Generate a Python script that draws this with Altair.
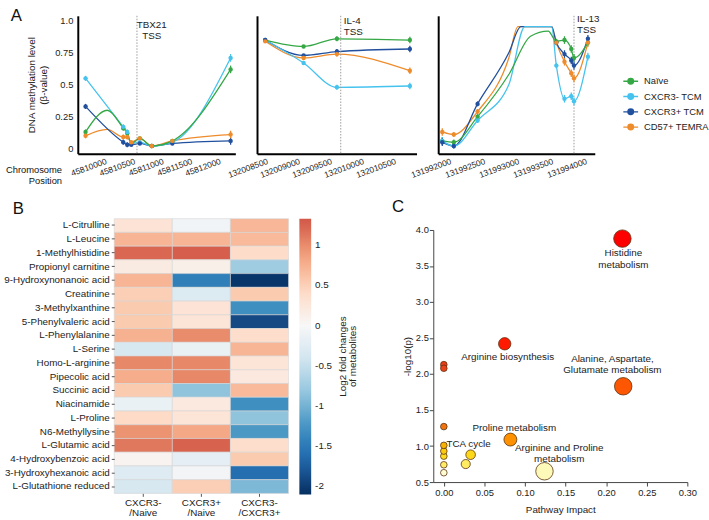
import altair as alt
import pandas as pd

FONT = "Liberation Sans"

# ---------------- A: CpG methylation around three transcription start sites
SERIES = ["Naïve", "CXCR3- TCM", "CXCR3+ TCM", "CD57+ TEMRA"]
SERIES_COLORS = ["#35a845", "#45c3ee", "#21509e", "#ee8c2c"]

# TBX21 locus
tbx21_pos = [45809670, 45810330, 45810400, 45810470, 45810620, 45810830, 45811190, 45812210]
tbx21_naive = [0.13, 0.16, 0.12, 0.04, 0.08, 0.02, 0.06, 0.62]
tbx21_cxcr3neg = [0.55, 0.17, 0.13, 0.04, 0.05, 0.02, 0.05, 0.71]
tbx21_cxcr3pos = [0.33, 0.05, 0.03, 0.03, 0.04, 0.02, 0.04, 0.06]
tbx21_temra = [0.10, 0.09, 0.09, 0.05, 0.08, 0.02, 0.06, 0.11]
tbx21_err = [0.02, 0.02, 0.02, 0.01, 0.01, 0.01, 0.01, 0.03]
tbx21_bends = {"Naïve": ([45810050], [0.30]), "CD57+ TEMRA": ([45810050], [0.15])}
tbx21_ticks = [45810000, 45810500, 45811000, 45811500, 45812000]
tbx21_tss = 45810570

# IL-4 locus
il4_pos = [132008490, 132009090, 132009610, 132010750]
il4_naive = [0.85, 0.80, 0.86, 0.85]
il4_cxcr3neg = [0.85, 0.67, 0.48, 0.49]
il4_cxcr3pos = [0.85, 0.73, 0.76, 0.78]
il4_temra = [0.84, 0.71, 0.74, 0.61]
il4_err = [0.01, 0.01, 0.02, 0.025]
il4_ticks = [132008500, 132009000, 132009500, 132010000, 132010500]
il4_tss = 132009670

# IL-13 locus
il13_pos = [131991900, 131992070, 131992420, 131993580, 131993700, 131993800, 131993840, 131994045]
il13_naive = [0.06, 0.05, 0.25, 0.84, 0.85, 0.78, 0.71, 0.83]
il13_cxcr3neg = [0.06, 0.02, 0.22, 0.65, 0.39, 0.41, 0.37, 0.72]
il13_cxcr3pos = [0.05, 0.02, 0.35, 0.83, 0.74, 0.69, 0.65, 0.86]
il13_temra = [0.13, 0.11, 0.29, 0.83, 0.68, 0.59, 0.55, 0.83]
il13_err = [0.03, 0.02, 0.02, 0.02, 0.03, 0.03, 0.03, 0.03]
il13_bends = {
    "Naïve": ([131992880, 131993200, 131993460], [0.58, 0.88, 0.92]),
    "CXCR3- TCM": ([131992880, 131993116, 131993510], [0.50, 0.955, 0.955]),
    "CXCR3+ TCM": ([131992880, 131993058, 131993510], [0.75, 0.955, 0.955]),
    "CD57+ TEMRA": ([131992880, 131993014, 131993510], [0.71, 0.955, 0.955]),
}
il13_ticks = [131992000, 131992500, 131993000, 131993500, 131994000]
il13_tss = 131993840

# ---------------- B: metabolite fold changes
METABOLITES = [
    "L-Citrulline", "L-Leucine", "1-Methylhistidine", "Propionyl carnitine",
    "9-Hydroxynonanoic acid", "Creatinine", "3-Methylxanthine", "5-Phenylvaleric acid",
    "L-Phenylalanine", "L-Serine", "Homo-L-arginine", "Pipecolic acid", "Succinic acid",
    "Niacinamide", "L-Proline", "N6-Methyllysine", "L-Glutamic acid",
    "4-Hydroxybenzoic acid", "3-Hydroxyhexanoic acid", "L-Glutathione reduced",
]
COMPARISONS = ["CXCR3-/Naive", "CXCR3+/Naive", "CXCR3-/CXCR3+"]
fc_cxcr3neg_naive = [0.30, 0.72, 1.22, 0.18, 0.72, 0.52, 0.55, 0.55, 0.75, -0.35,
                     1.02, 0.78, 0.55, -0.15, 0.42, 0.95, 1.12, 0.06, -0.28, -0.35]
fc_cxcr3pos_naive = [-0.08, 0.72, 1.27, 0.12, -1.45, -0.30, 0.30, 0.28, 1.00, -0.15,
                     1.02, 1.02, -0.85, 0.22, 0.28, 0.82, 1.25, -0.20, -0.06, 0.52]
fc_cxcr3neg_cxcr3pos = [0.70, 0.68, 0.40, -0.75, -2.05, 0.55, -1.30, -1.90, 0.38, 0.72,
                        0.28, 0.22, 0.68, -1.30, -0.85, -1.22, 0.38, 0.55, -1.60, -0.95]

# ---------------- C: pathway enrichment
PATHWAYS = ["Histidine metabolism", "Arginine biosynthesis",
            "Alanine, Aspartate, Glutamate metabolism", "Proline metabolism",
            "TCA cycle", "", "Arginine and Proline metabolism",
            "", "", "", "", "", "", "", ""]
IMPACT = [0.220, 0.075, 0.221, 0.082, 0.033, 0.027, 0.124,
          0.0, 0.0, 0.0, 0.0, 0.0, 0.0, 0.0, 0.0]
NEG_LOG_P = [3.88, 2.42, 1.83, 1.09, 0.88, 0.75, 0.65,
             2.13, 2.08, 1.27, 1.01, 0.93, 0.86, 0.74, 0.63]
WRAPPED = {
    "Histidine metabolism": "Histidine\nmetabolism",
    "Alanine, Aspartate, Glutamate metabolism": "Alanine, Aspartate,\nGlutamate metabolism",
    "Arginine and Proline metabolism": "Arginine and Proline\nmetabolism",
}
# label placement around each bubble: dx, dy (to the first line), baseline
LABEL_PLACEMENT = {
    "Histidine metabolism": (1, 10, "top"),
    "Arginine biosynthesis": (3, 13, "middle"),
    "Alanine, Aspartate, Glutamate metabolism": (-11, -23, "bottom"),
    "Proline metabolism": (4, -12, "middle"),
    "TCA cycle": (-2, -11, "middle"),
    "Arginine and Proline metabolism": (15, -19, "bottom"),
}

one_row = pd.DataFrame({"k": [0]})
series_scale = alt.Scale(domain=SERIES, range=SERIES_COLORS)


def spacer(w):
    return alt.Chart(one_row).mark_point(opacity=0).encode(
        x=alt.value(0), y=alt.value(0)).properties(width=w, height=1)


def locus_tables(positions, values, err, bends):
    pts, curve = [], []
    for s, vals in zip(SERIES, values):
        for p, v, e in zip(positions, vals, err):
            pts.append({"pos": p, "value": v, "lo": v - e, "hi": v + e, "series": s})
            curve.append({"pos": p, "value": v, "series": s})
        bp, bv = bends.get(s, ([], []))
        for p, v in zip(bp, bv):
            curve.append({"pos": p, "value": v, "series": s})
    return pd.DataFrame(pts), pd.DataFrame(curve).sort_values(["series", "pos"])


LEGEND_SYMBOL = "M-1,0H1M-0.38,0A0.38,0.38,0,1,1,0.38,0A0.38,0.38,0,1,1,-0.38,0"


def locus_panel(positions, values, err, bends, domain, ticks, tss, tss_text,
                tss_align, tss_dx, tss_y, width, first=False, legend=False):
    pts, curve = locus_tables(positions, values, err, bends)
    xscale = alt.Scale(domain=domain, nice=False, zero=False)
    yscale = alt.Scale(domain=[-0.04, 1.04], nice=False, zero=False)
    xaxis = alt.Axis(values=ticks, format="d", labelAngle=-20, labelAlign="right",
                     labelBaseline="top", labelFontSize=8.5, labelPadding=3,
                     labelFlush=False, labelOverlap=False, ticks=False, grid=False,
                     domainColor="black", domainWidth=2, title=None)
    if first:
        yaxis = alt.Axis(values=[0, 0.25, 0.5, 0.75, 1.0],
                         labelExpr="datum.value == 1 ? '1.0' : format(datum.value, '~g')",
                         labelFontSize=9.5, ticks=False, grid=False, labelPadding=5,
                         labelOverlap=False, domainColor="black", domainWidth=2,
                         title=["DNA methylation level", "(β-value)"],
                         titleFontSize=10, titleFontWeight="normal", titlePadding=6,
                         titleLineHeight=12)
    else:
        yaxis = alt.Axis(labels=False, ticks=False, grid=False, title=None,
                         domainColor="black", domainWidth=2)
    leg = None
    if legend:
        leg = alt.Legend(title=None, orient="none", legendX=187, legendY=58,
                         symbolType=LEGEND_SYMBOL, symbolSize=225, symbolStrokeWidth=1.4,
                         labelFontSize=9.5, labelOffset=5, rowPadding=0.5, labelFont=FONT)
    color = alt.Color("series:N", scale=series_scale, legend=leg)
    # every layer carries the same axis definition so the merged axis keeps it
    x_enc = alt.X("pos:Q", scale=xscale, axis=xaxis)
    y_enc = alt.Y("value:Q", scale=yscale, axis=yaxis)
    x_tss = alt.X(datum=tss, scale=xscale, axis=xaxis)

    lines = alt.Chart(curve).mark_line(interpolate="monotone", strokeWidth=1.3, clip=True).encode(
        x=x_enc, y=y_enc, color=color, detail="series:N")
    bars = alt.Chart(pts).mark_rule(strokeWidth=1.3).encode(
        x=x_enc, y=alt.Y("lo:Q", scale=yscale, axis=yaxis), y2="hi:Q",
        color=alt.Color("series:N", scale=series_scale, legend=None))
    dots = alt.Chart(pts).mark_circle(size=20, opacity=1).encode(x=x_enc, y=y_enc, color=color)
    tss_rule = alt.Chart(one_row).mark_rule(color="#9a9a9a", strokeDash=[1.5, 1.5],
                                            strokeWidth=1).encode(
        x=x_tss, y=alt.value(0), y2=alt.value(140))
    tss_label = alt.Chart(one_row).mark_text(
        align=tss_align, baseline="top", dx=tss_dx, fontSize=10, lineBreak="\n",
        lineHeight=11.5, color="#222").encode(
        x=x_tss, y=alt.value(tss_y), text=alt.value(tss_text))
    layers = [lines, tss_rule, bars, dots, tss_label]
    if first:
        layers.append(alt.Chart(one_row).mark_text(
            align="right", baseline="middle", fontSize=9.5, lineBreak="\n", lineHeight=11,
            color="#111").encode(x=alt.value(-16), y=alt.value(157),
                                 text=alt.value("Chromosome\nPosition")))
        layers.append(alt.Chart(one_row).mark_text(
            align="left", baseline="alphabetic", fontSize=17, color="#111").encode(
            x=alt.value(-68), y=alt.value(5), text=alt.value("A")))
    return alt.layer(*layers).properties(width=width, height=140)


a1 = locus_panel(tbx21_pos, [tbx21_naive, tbx21_cxcr3neg, tbx21_cxcr3pos, tbx21_temra],
                 tbx21_err, tbx21_bends, [45809534, 45812293], tbx21_ticks, tbx21_tss,
                 "TBX21\nTSS", "center", 15, 4, 160, first=True)
a2 = locus_panel(il4_pos, [il4_naive, il4_cxcr3neg, il4_cxcr3pos, il4_temra],
                 il4_err, {}, [132008362, 132010854], il4_ticks, il4_tss,
                 "IL-4\nTSS", "left", 3, 0, 162)
a3 = locus_panel(il13_pos, [il13_naive, il13_cxcr3neg, il13_cxcr3pos, il13_temra],
                 il13_err, il13_bends, [131991840, 131994146], il13_ticks, il13_tss,
                 "IL-13\nTSS", "left", 3, -2, 159, legend=True)

top = alt.hconcat(a1, a2, a3, spacing=22, bounds="flush").resolve_scale(color="independent")

# ---------------- B heatmap
heat_rows = []
for comp, vals in zip(COMPARISONS, [fc_cxcr3neg_naive, fc_cxcr3pos_naive, fc_cxcr3neg_cxcr3pos]):
    for m, v in zip(METABOLITES, vals):
        heat_rows.append({"metabolite": m, "comparison": comp, "log2fc": v})
heat_df = pd.DataFrame(heat_rows)

rdbu_domain = [-2.1, -1.68, -1.26, -0.84, -0.42, 0, 0.42, 0.84, 1.26, 1.33]
rdbu_range = ["#053061", "#2166ac", "#4393c3", "#92c5de", "#d1e5f0", "#f7f7f7",
              "#fddbc7", "#f4a582", "#d6604d", "#d25849"]

heat = alt.Chart(heat_df).mark_rect(stroke="#d6d6d6", strokeWidth=0.6).encode(
    x=alt.X("comparison:N", sort=COMPARISONS, scale=alt.Scale(paddingInner=0, paddingOuter=0),
            axis=alt.Axis(title=None, labelAngle=0, labelFontSize=10, labelPadding=1,
                          tickSize=3, tickColor="#555", domain=False, labelLineHeight=10.5,
                          labelExpr="[slice(datum.label, 0, indexof(datum.label, '/')), slice(datum.label, indexof(datum.label, '/'))]")),
    y=alt.Y("metabolite:N", sort=METABOLITES, scale=alt.Scale(paddingInner=0, paddingOuter=0),
            axis=alt.Axis(title=None, labelFontSize=10, tickSize=3, tickColor="#555",
                          labelPadding=2, domain=False)),
    color=alt.Color("log2fc:Q", scale=alt.Scale(domain=rdbu_domain, range=rdbu_range),
                    legend=alt.Legend(title=None, orient="none", legendX=188, legendY=0,
                                      direction="vertical", gradientLength=280,
                                      gradientThickness=12, gradientStrokeWidth=0,
                                      values=[1, 0.5, 0, -0.5, -1, -1.5, -2],
                                      labelExpr="replace(format(datum.value, '.1~f'), '\u2212', '-')",
                                      labelOverlap=False, labelFontSize=10, labelOffset=4,
                                      labelFont=FONT)),
)
heat_title = alt.Chart(one_row).mark_text(
    angle=270, align="center", baseline="middle", fontSize=10, lineBreak="\n",
    lineHeight=11, color="#222").encode(
    x=alt.value(232), y=alt.value(140), text=alt.value("Log2 fold changes\nof metabolites"))
heat_letter = alt.Chart(one_row).mark_text(
    align="left", baseline="alphabetic", fontSize=17, color="#111").encode(
    x=alt.value(-103), y=alt.value(-5), text=alt.value("B"))
panel_b = alt.layer(heat, heat_title, heat_letter).properties(width=177, height=279)

# ---------------- C bubble plot
path_df = pd.DataFrame({"pathway": PATHWAYS, "impact": IMPACT, "neglogp": NEG_LOG_P})
path_df["label"] = [WRAPPED.get(p, p) for p in PATHWAYS]
path_df = path_df.sort_values("impact")

cx = alt.X("impact:Q", scale=alt.Scale(domain=[-0.013, 0.30], nice=False, zero=False),
           axis=alt.Axis(values=[0, 0.05, 0.1, 0.15, 0.2, 0.25, 0.3], format=".2f",
                         title="Pathway Impact", titleFontSize=10, titleFontWeight="normal",
                         titlePadding=7, labelFontSize=9.5, tickSize=4, grid=False,
                         domainColor="#444", tickColor="#444", labelFlush=False))
cy = alt.Y("neglogp:Q", scale=alt.Scale(domain=[0.5, 4.0], nice=False, zero=False),
           axis=alt.Axis(values=[0.5, 1, 1.5, 2, 2.5, 3, 3.5, 4], format=".1f",
                         title="-log10(p)", titleFontSize=10, titleFontWeight="normal",
                         titlePadding=3, labelFontSize=9.5, tickSize=4, labelPadding=1,
                         grid=False, domainColor="#444", tickColor="#444"))
bubbles = alt.Chart(path_df).mark_circle(opacity=1, stroke="#5a3312", strokeWidth=0.8).encode(
    x=cx, y=cy,
    size=alt.Size("impact:Q", scale=alt.Scale(domain=[0, 0.03, 0.08, 0.124],
                                              range=[45, 90, 165, 315], clamp=True), legend=None),
    color=alt.Color("neglogp:Q", scale=alt.Scale(
        domain=[0.6, 0.7, 0.85, 1.0, 1.1, 1.3, 1.8, 2.1, 2.4, 3.9],
        range=["#fffff4", "#fff27a", "#ffe020", "#f5b800", "#ff8c00", "#ec7012",
               "#ff5a00", "#e9401a", "#ff1a00", "#ff0000"]), legend=None))
c_layers = [bubbles]
for name, (dx, dy, base) in LABEL_PLACEMENT.items():
    c_layers.append(alt.Chart(path_df).transform_filter(
        alt.datum.pathway == name).mark_text(
        dx=dx, dy=dy, baseline=base, align="center", fontSize=10, lineBreak="\n",
        lineHeight=11.5, color="#222").encode(x=cx, y=cy, text="label:N"))
c_layers.append(alt.Chart(one_row).mark_text(
    align="left", baseline="alphabetic", fontSize=17, color="#111").encode(
    x=alt.value(-42), y=alt.value(-18), text=alt.value("C")))
panel_c = alt.layer(*c_layers).properties(width=258, height=256)

bottom = alt.hconcat(spacer(37), panel_b, spacer(147), panel_c, spacing=0,
                     bounds="flush", center=True).resolve_scale(
    color="independent", size="independent")

chart = alt.vconcat(top, bottom, spacing=12).resolve_scale(
    color="independent").properties(
    padding={"left": 3, "top": 3, "right": 0, "bottom": 0}, background="white"
).configure_view(stroke=None).configure_axis(
    labelFont=FONT, titleFont=FONT, labelColor="#222", titleColor="#222"
).configure_text(font=FONT).configure_legend(labelFont=FONT, labelColor="#222")

chart.save("out.html", embed_options={"renderer": "svg", "actions": False})
